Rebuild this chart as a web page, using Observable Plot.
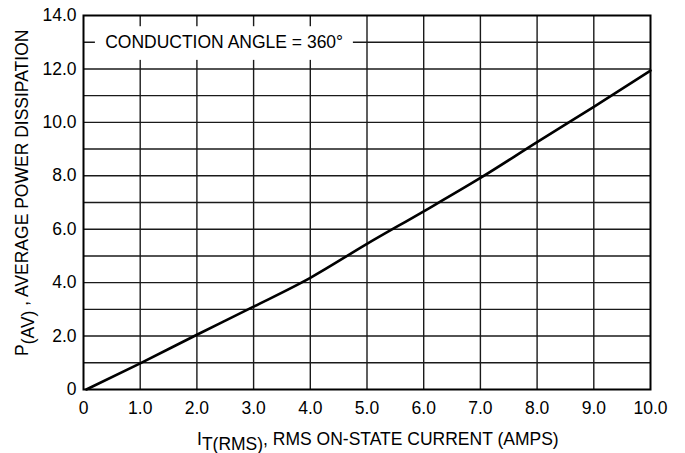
<!DOCTYPE html>
<html>
<head>
<meta charset="utf-8">
<script src="https://cdn.jsdelivr.net/npm/d3@7"></script>
<script src="https://cdn.jsdelivr.net/npm/@observablehq/plot@0.6"></script>
<style>
  html, body { margin: 0; padding: 0; background: #fff; }
  #chart svg { display: block; }
</style>
</head>
<body>
<div id="chart"></div>
<script>
// Curve: average power dissipation vs RMS on-state current
const current = [0.05, 1, 2, 3, 4, 5, 6, 7, 8, 9, 10];
const power   = [0, 0.98, 2.05, 3.1, 4.18, 5.45, 6.67, 7.92, 9.26, 10.58, 11.94];

// Axis ticks
const xTicks = [0, 1, 2, 3, 4, 5, 6, 7, 8, 9, 10];
const yTicks = [0, 2, 4, 6, 8, 10, 12, 14];
const xGrid = [1, 2, 3, 4, 5, 6, 7, 8, 9];
const yGrid = [1, 2, 3, 4, 5, 6, 7, 8, 9, 10, 11, 12, 13];

// Annotation
const noteLabel = ["CONDUCTION ANGLE = 360°"];
const noteX1 = [0.21], noteX2 = [4.76], noteY1 = [12.32], noteY2 = [13.58];
const noteCx = [2.48], noteCy = [13.0];

const curve = current.map((x, i) => ({x, y: power[i]}));
const note = noteLabel.map((label, i) => ({
  label, x1: noteX1[i], x2: noteX2[i], y1: noteY1[i], y2: noteY2[i], cx: noteCx[i], cy: noteCy[i]
}));
const fmt = d => d === 0 ? "0" : d.toFixed(1);

const FONT = "'Liberation Sans', Arial, Helvetica, sans-serif";

const chart = Plot.plot({
  width: 685,
  height: 453,
  marginLeft: 83,
  marginRight: 35,
  marginTop: 15,
  marginBottom: 64,
  style: {background: "#fff", fontFamily: FONT, fontSize: "17px", color: "#000"},
  x: {domain: [0, 10], ticks: xTicks, tickFormat: fmt, label: null},
  y: {domain: [0, 14], ticks: yTicks, tickFormat: fmt, label: null},
  marks: [
    Plot.ruleX(xGrid, {stroke: "#1a1a1a", strokeWidth: 1.4}),
    Plot.ruleY(yGrid, {stroke: "#1a1a1a", strokeWidth: 1.4}),
    Plot.rect(note, {x1: "x1", x2: "x2", y1: "y1", y2: "y2", fill: "#fff"}),
    Plot.text(note, {x: "cx", y: "cy", text: "label", fontSize: 17.5, fill: "#000", fontFamily: FONT}),
    Plot.line(curve, {x: "x", y: "y", stroke: "#000", strokeWidth: 2.6, curve: "monotone-x"}),
    Plot.frame({stroke: "#000", strokeWidth: 2}),
    Plot.axisX(xTicks, {tickSize: 0, tickPadding: 12, fontSize: 17.5, tickFormat: fmt, label: null, fill: "#000"}),
    Plot.axisY(yTicks, {tickSize: 0, tickPadding: 7, fontSize: 17.5, tickFormat: fmt, label: null, fill: "#000"})
  ]
});

const svg = d3.select(chart);
// X axis label with subscript
const xl = svg.append("text")
  .attr("x", 197).attr("y", 445)
  .attr("text-anchor", "start")
  .attr("font-family", FONT).attr("font-size", 17.5).attr("fill", "#000");
xl.append("tspan").text("I");
xl.append("tspan").attr("dy", 5).text("T(RMS)");
xl.append("tspan").attr("dy", -5).text(", RMS ON-STATE CURRENT (AMPS)");

// Y axis label with subscript (rotated)
const yl = svg.append("text")
  .attr("transform", "translate(28,356) rotate(-90)")
  .attr("text-anchor", "start")
  .attr("font-family", FONT).attr("font-size", 17.5).attr("fill", "#000");
yl.append("tspan").text("P");
yl.append("tspan").attr("dy", 6).text("(AV)");
yl.append("tspan").attr("dy", -6).text(" , AVERAGE POWER DISSIPATION");

document.getElementById("chart").appendChild(chart);
</script>
</body>
</html>
